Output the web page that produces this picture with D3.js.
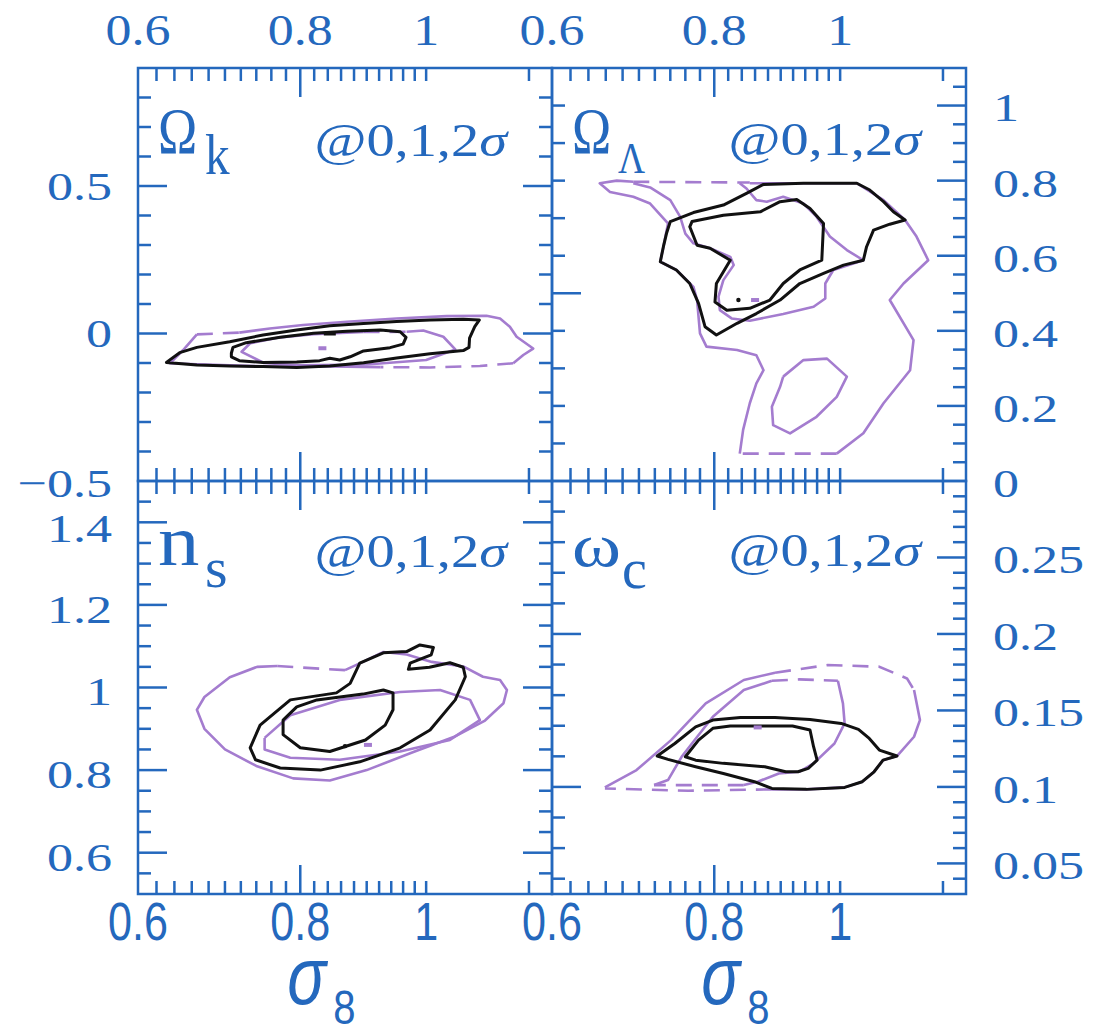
<!DOCTYPE html>
<html><head><meta charset="utf-8">
<script src="https://cdn.jsdelivr.net/npm/d3@7"></script>
<style>body{margin:0;background:#fff}</style>
</head><body><svg id="c" width="1094" height="1036"></svg>
<script>
// ---------- axes data ----------
const sigma8Domain = [0.6, 1.25];
const sigma8MinorTicks = [0.62,0.64,0.66,0.68,0.70,0.72,0.74,0.76,0.78,0.82,0.84,0.86,0.88,0.90,0.92,0.94,0.96,0.98,1.00,1.20];
const sigma8MajorTicks = [0.8];
const sigma8Labels = [0.6, 0.8, 1];

const omegaKDomain = [-0.5, 0.9];
const omegaKMinor = [-0.4,-0.3,-0.2,-0.1,0.1,0.2,0.3,0.4,0.6,0.7,0.8];
const omegaKMajor = [0, 0.5];
const omegaKLabels = [0.5, 0, -0.5];

const omegaLDomain = [0, 1.1];
const omegaLLeftMinor = [0.1,0.2,0.3,0.4,0.6,0.7,0.8,0.9,1.0];
const omegaLLeftMajor = [0.5];
const omegaLRightMinor = [0.05,0.1,0.15,0.25,0.3,0.35,0.45,0.5,0.55,0.65,0.7,0.75,0.85,0.9,0.95,1.05];
const omegaLRightMajor = [0.2,0.4,0.6,0.8,1.0];
const omegaLLabels = [1, 0.8, 0.6, 0.4, 0.2, 0];

const nsDomain = [0.5, 1.5];
const nsMinor = [0.55,0.65,0.7,0.75,0.85,0.9,0.95,1.05,1.1,1.15,1.25,1.3,1.35,1.45];
const nsMajor = [0.6,0.8,1.0,1.2,1.4];
const nsLabels = [1.4, 1.2, 1, 0.8, 0.6];

const wcDomain = [0.03, 0.3];
const wcLeftMinor = [0.04,0.06,0.08,0.12,0.14,0.16,0.18,0.22,0.24,0.26,0.28];
const wcLeftMajor = [0.1, 0.2];
const wcRightMinor = [0.04,0.06,0.07,0.08,0.09,0.11,0.12,0.13,0.14,0.16,0.17,0.18,0.19,0.21,0.22,0.23,0.24,0.26,0.27,0.28,0.29];
const wcRightMajor = [0.05,0.1,0.15,0.2,0.25];
const wcLabels = [0.25, 0.2, 0.15, 0.1, 0.05];

// ---------- contour data [sigma8, parameter] ----------
const omegaKBlackOuter = [[0.631,-0.098],[0.646,-0.065],[0.666,-0.047],[0.706,-0.028],[0.749,-0.005],[0.795,0.012],[0.843,0.026],[0.895,0.034],[0.949,0.041],[1.007,0.046],[1.068,0.048],[1.099,0.046],[1.090,0.023],[1.080,-0.016],[1.079,-0.047],[1.068,-0.058],[1.007,-0.069],[0.949,-0.083],[0.895,-0.099],[0.843,-0.110],[0.795,-0.115],[0.749,-0.112],[0.706,-0.110],[0.666,-0.107]];
const omegaKBlackInner = [[0.708,-0.067],[0.710,-0.047],[0.727,-0.031],[0.772,-0.013],[0.819,0.001],[0.869,0.008],[0.922,0.012],[0.955,0.006],[0.965,-0.013],[0.960,-0.036],[0.938,-0.048],[0.895,-0.059],[0.874,-0.079],[0.858,-0.090],[0.843,-0.084],[0.828,-0.092],[0.795,-0.097],[0.749,-0.098],[0.718,-0.092],[0.708,-0.079]];
const omegaKPurpleSolid = [
  [[0.922,-0.114],[0.843,-0.112],[0.749,-0.111],[0.706,-0.108],[0.666,-0.104],[0.635,-0.101],[0.650,-0.056],[0.666,-0.003]],
  [[0.718,0.003],[0.758,0.017],[0.804,0.029],[0.869,0.040],[0.949,0.051],[1.037,0.059],[1.113,0.060],[1.140,0.051],[1.160,0.023],[1.174,-0.011],[1.209,-0.051],[1.188,-0.073],[1.167,-0.101]],
  [[0.895,0.005],[0.819,-0.002],[0.772,-0.013],[0.732,-0.033],[0.721,-0.062],[0.750,-0.100],[0.800,-0.108],[0.900,-0.105],[1.000,-0.090],[1.053,-0.054],[1.031,-0.011],[0.995,0.010],[0.966,0.006]]
];
const omegaKPurpleDashed = [
  [[0.666,-0.003],[0.718,0.003]],
  [[1.167,-0.101],[1.100,-0.110],[1.007,-0.115],[0.922,-0.114]],
  [[0.895,0.005],[0.966,0.006]]
];
const omegaKBlackCenter = [0.843, 0.0];
const omegaKPurpleCenter = [0.832, -0.050];

const omegaLBlackOuter = [[0.740,0.691],[0.771,0.715],[0.813,0.735],[0.847,0.766],[0.873,0.790],[0.937,0.793],[1.030,0.793],[1.054,0.775],[1.080,0.744],[1.099,0.717],[1.122,0.695],[1.092,0.684],[1.061,0.668],[1.048,0.624],[1.042,0.588],[1.006,0.575],[0.971,0.553],[0.931,0.526],[0.899,0.482],[0.862,0.446],[0.833,0.420],[0.803,0.389],[0.787,0.411],[0.778,0.473],[0.766,0.526],[0.748,0.562],[0.727,0.584],[0.731,0.624],[0.735,0.659]];
const omegaLBlackInner = [[0.769,0.691],[0.813,0.708],[0.868,0.717],[0.899,0.744],[0.926,0.750],[0.948,0.726],[0.971,0.686],[0.968,0.588],[0.931,0.562],[0.904,0.526],[0.883,0.482],[0.852,0.460],[0.818,0.455],[0.801,0.477],[0.803,0.526],[0.823,0.588],[0.794,0.620],[0.776,0.628],[0.766,0.677]];
const omegaLPurpleSolid = [
  [[0.852,0.793],[0.937,0.793],[1.030,0.793],[1.080,0.748],[1.122,0.695],[1.145,0.651],[1.169,0.588],[1.119,0.526],[1.092,0.482],[1.139,0.375],[1.132,0.295],[1.080,0.207],[1.042,0.127],[0.994,0.073]],
  [[0.837,0.073],[0.842,0.136],[0.852,0.207],[0.862,0.260],[0.873,0.295],[0.862,0.335],[0.833,0.349],[0.789,0.358],[0.780,0.393],[0.776,0.482],[0.771,0.517],[0.748,0.562],[0.727,0.584],[0.731,0.624],[0.737,0.686],[0.714,0.739],[0.693,0.757],[0.665,0.770],[0.653,0.793],[0.673,0.800],[0.693,0.797]],
  [[0.693,0.793],[0.714,0.782],[0.740,0.748],[0.753,0.704],[0.760,0.659],[0.771,0.633],[0.794,0.620],[0.823,0.597],[0.828,0.575],[0.813,0.535],[0.806,0.491],[0.808,0.455],[0.825,0.433],[0.852,0.427],[0.904,0.445],[0.954,0.464],[0.974,0.486],[0.974,0.526],[0.988,0.562],[1.042,0.588],[1.012,0.615],[0.982,0.651],[0.959,0.704],[0.937,0.739],[0.904,0.757],[0.878,0.744],[0.862,0.748],[0.847,0.779],[0.837,0.793]],
  [[0.904,0.278],[0.937,0.322],[0.977,0.326],[1.012,0.278],[0.994,0.224],[0.959,0.171],[0.915,0.127],[0.888,0.149],[0.886,0.198],[0.899,0.251],[0.904,0.278]]
];
const omegaLPurpleDashed = [
  [[0.693,0.797],[0.852,0.795]],
  [[0.994,0.073],[0.837,0.073]]
];
const omegaLBlackCenter = [0.835, 0.482];
const omegaLPurpleCenter = [0.860, 0.482];

const nsBlackOuter = [[0.732,0.854],[0.745,0.909],[0.786,0.970],[0.853,0.987],[0.874,1.010],[0.889,1.059],[0.927,1.084],[0.966,1.087],[0.989,1.103],[1.013,1.097],[1.009,1.079],[0.972,1.059],[0.969,1.044],[1.006,1.049],[1.043,1.060],[1.068,1.049],[1.072,1.026],[1.053,0.970],[1.007,0.897],[0.955,0.854],[0.889,0.820],[0.829,0.800],[0.772,0.805],[0.739,0.825]];
const nsBlackInner = [[0.776,0.921],[0.795,0.953],[0.824,0.970],[0.894,0.984],[0.927,0.994],[0.943,0.987],[0.943,0.946],[0.930,0.909],[0.898,0.873],[0.843,0.845],[0.800,0.854],[0.776,0.886]];
const nsPurpleSolid = [
  [[0.866,1.042],[0.894,1.062],[0.927,1.086],[0.966,1.080],[1.010,1.062],[1.068,1.051],[1.106,1.026],[1.140,1.018],[1.154,0.994],[1.147,0.962],[1.110,0.920],[1.050,0.880],[0.980,0.845],[0.900,0.800],[0.843,0.775],[0.790,0.780],[0.740,0.810],[0.700,0.850],[0.675,0.900],[0.666,0.946],[0.675,0.977],[0.706,1.025],[0.741,1.050],[0.768,1.052]],
  [[0.751,0.878],[0.786,0.933],[0.858,0.970],[0.955,0.989],[1.025,0.994],[1.081,0.970],[1.100,0.921],[1.043,0.873],[0.955,0.845],[0.858,0.825],[0.786,0.830],[0.751,0.850],[0.751,0.878]]
];
const nsPurpleDashed = [
  [[0.768,1.052],[0.866,1.042]]
];
const nsBlackCenter = [0.866, 0.858];
const nsPurpleCenter = [0.902, 0.861];

const wcBlackOuter = [[0.723,0.1202],[0.746,0.1284],[0.774,0.1393],[0.798,0.1437],[0.838,0.1454],[0.891,0.1454],[0.948,0.1441],[1.002,0.1415],[1.033,0.1376],[1.053,0.1317],[1.072,0.1241],[1.106,0.1202],[1.079,0.1175],[1.062,0.1099],[1.040,0.1034],[1.008,0.0997],[0.942,0.0984],[0.886,0.0990],[0.859,0.1034],[0.813,0.1088],[0.774,0.1132],[0.737,0.1180]];
const wcBlackInner = [[0.760,0.1197],[0.778,0.1306],[0.798,0.1383],[0.823,0.1398],[0.919,0.1398],[0.948,0.1372],[0.954,0.1263],[0.960,0.1175],[0.945,0.1121],[0.928,0.1099],[0.908,0.1099],[0.875,0.1132],[0.813,0.1154],[0.774,0.1175]];
const wcPurpleSolid = [
  [[0.659,0.0997],[0.697,0.1110],[0.741,0.1306],[0.788,0.1546],[0.843,0.1699],[0.891,0.1747]],
  [[1.140,0.1633],[1.152,0.1437],[1.140,0.1328],[1.106,0.1202],[1.079,0.1175],[1.062,0.1099],[1.040,0.1034],[1.008,0.0997],[0.942,0.0984],[0.886,0.0984]],
  [[0.719,0.1012],[0.737,0.1045],[0.755,0.1197],[0.798,0.1459],[0.843,0.1633],[0.886,0.1694]],
  [[0.996,0.1694],[1.005,0.1546],[1.008,0.1415],[0.990,0.1284],[0.954,0.1154],[0.930,0.1099],[0.897,0.1088],[0.864,0.1034],[0.843,0.1012]]
];
const wcPurpleDashed = [
  [[0.891,0.1747],[0.978,0.1797],[1.072,0.1786],[1.126,0.1709],[1.140,0.1633]],
  [[0.886,0.0984],[0.764,0.0975],[0.659,0.0990]],
  [[0.886,0.1694],[0.930,0.1703],[0.996,0.1694]],
  [[0.843,0.1012],[0.719,0.1012]]
];
const wcBlackCenter = null;
const wcPurpleCenter = [0.864, 0.1389];

// ---------- layout & style ----------
const BLUE = "#2468bd", PURPLE = "#a47ccf", BLACK = "#111";
const SERIF = "'Liberation Serif', 'DejaVu Serif', serif";
const SANS = "'Liberation Sans', Arial, sans-serif";
const X0 = 138, X1 = 552, X2 = 966, Y0 = 68, Y1 = 481, Y2 = 894;
const MINOR = 13, MAJOR = 29;

const svg = d3.select("#c");
svg.append("rect").attr("width",1094).attr("height",1036).attr("fill","#fff");

function stext(sel, x, y, txt, o) {
  const t = sel.append("text")
    .attr("transform", `translate(${x},${y}) scale(${o.sx || 1},${o.sy || 1})`)
    .attr("text-anchor", o.anchor || "start")
    .attr("font-family", o.family || SERIF)
    .attr("font-size", o.size)
    .attr("fill", BLUE);
  if (o.dy) t.attr("dy", o.dy);
  if (o.italic) t.attr("font-style", "italic");
  if (txt !== null) t.text(txt);
  return t;
}

const panels = [
  {x:[X0,X1], y:[Y0,Y1], dom:omegaKDomain, lMin:omegaKMinor, lMaj:omegaKMajor, rMin:omegaKMinor, rMaj:omegaKMajor,
   bo:omegaKBlackOuter, bi:omegaKBlackInner, ps:omegaKPurpleSolid, pd:omegaKPurpleDashed, bc:omegaKBlackCenter, bcDash:true, pc:omegaKPurpleCenter,
   sym:"Ω", sub:"k", symSize:66, symSX:0.8, subSize:58, subSX:0.85, subX:67, base:153, subBase:174, annBase:156},
  {x:[X1,X2], y:[Y0,Y1], dom:omegaLDomain, lMin:omegaLLeftMinor, lMaj:omegaLLeftMajor, rMin:omegaLRightMinor, rMaj:omegaLRightMajor,
   bo:omegaLBlackOuter, bi:omegaLBlackInner, ps:omegaLPurpleSolid, pd:omegaLPurpleDashed, bc:omegaLBlackCenter, pc:omegaLPurpleCenter,
   sym:"Ω", sub:"Λ", symSize:66, symSX:0.8, subSize:44, subSX:0.85, subX:66, base:153, subBase:173, annBase:155},
  {x:[X0,X1], y:[Y1,Y2], dom:nsDomain, lMin:nsMinor, lMaj:nsMajor, rMin:nsMinor, rMaj:nsMajor,
   bo:nsBlackOuter, bi:nsBlackInner, ps:nsPurpleSolid, pd:nsPurpleDashed, bc:nsBlackCenter, pc:nsPurpleCenter,
   sym:"n", sub:"s", symSize:72, symSX:1.15, subSize:58, subSX:1.0, subX:67, base:565, subBase:587, annBase:567},
  {x:[X1,X2], y:[Y1,Y2], dom:wcDomain, lMin:wcLeftMinor, lMaj:wcLeftMajor, rMin:wcRightMinor, rMaj:wcRightMajor,
   bo:wcBlackOuter, bi:wcBlackInner, ps:wcPurpleSolid, pd:wcPurpleDashed, bc:wcBlackCenter, pc:wcPurpleCenter,
   sym:"ω", sub:"c", symSize:62, symSX:1.2, subSize:56, subSX:1.0, subX:70, base:566, subBase:588, annBase:566}
];

panels.forEach((p, i) => {
  const xs = d3.scaleLog().domain(sigma8Domain).range(p.x);
  const ys = d3.scaleLinear().domain(p.dom).range([p.y[1], p.y[0]]);
  const g = svg.append("g");
  const clipId = "clip" + i;
  svg.append("clipPath").attr("id", clipId).append("rect")
    .attr("x", p.x[0]).attr("y", p.y[0]).attr("width", p.x[1]-p.x[0]).attr("height", p.y[1]-p.y[0]);
  const cg = g.append("g").attr("clip-path", `url(#${clipId})`);
  const line = d3.line().x(d => xs(d[0])).y(d => ys(d[1]));
  const lineClosed = d3.line().x(d => xs(d[0])).y(d => ys(d[1])).curve(d3.curveLinearClosed);

  p.ps.forEach(seg => cg.append("path").attr("d", line(seg)).attr("fill","none")
    .attr("stroke", PURPLE).attr("stroke-width", 2.6).attr("stroke-linejoin","round"));
  p.pd.forEach(seg => cg.append("path").attr("d", line(seg)).attr("fill","none")
    .attr("stroke", PURPLE).attr("stroke-width", 2.6).attr("stroke-dasharray","16,10"));
  [p.bo, p.bi].forEach(c => cg.append("path").attr("d", lineClosed(c)).attr("fill","none")
    .attr("stroke", BLACK).attr("stroke-width", 3).attr("stroke-linejoin","round"));
  if (p.pc) cg.append("line").attr("x1", xs(p.pc[0])-4).attr("x2", xs(p.pc[0])+4)
    .attr("y1", ys(p.pc[1])).attr("y2", ys(p.pc[1])).attr("stroke", PURPLE).attr("stroke-width", 4);
  if (p.bc && p.bcDash) cg.append("line").attr("x1", xs(p.bc[0])-6).attr("x2", xs(p.bc[0])+6)
    .attr("y1", ys(p.bc[1])).attr("y2", ys(p.bc[1])).attr("stroke", BLACK).attr("stroke-width", 4);
  else if (p.bc) cg.append("circle").attr("cx", xs(p.bc[0])).attr("cy", ys(p.bc[1])).attr("r", 2.2).attr("fill", BLACK);

  g.append("rect").attr("x", p.x[0]).attr("y", p.y[0]).attr("width", p.x[1]-p.x[0]).attr("height", p.y[1]-p.y[0])
    .attr("fill","none").attr("stroke", BLUE).attr("stroke-width", 2.5);

  const tick = (x1,y1,x2,y2) => g.append("line").attr("x1",x1).attr("y1",y1).attr("x2",x2).attr("y2",y2)
    .attr("stroke", BLUE).attr("stroke-width", 2.5);
  p.lMin.forEach(v => tick(p.x[0], ys(v), p.x[0]+MINOR, ys(v)));
  p.lMaj.forEach(v => tick(p.x[0], ys(v), p.x[0]+MAJOR, ys(v)));
  p.rMin.forEach(v => tick(p.x[1], ys(v), p.x[1]-MINOR, ys(v)));
  p.rMaj.forEach(v => tick(p.x[1], ys(v), p.x[1]-MAJOR, ys(v)));
  sigma8MinorTicks.forEach(v => { tick(xs(v), p.y[0], xs(v), p.y[0]+MINOR); tick(xs(v), p.y[1], xs(v), p.y[1]-MINOR); });
  sigma8MajorTicks.forEach(v => { tick(xs(v), p.y[0], xs(v), p.y[0]+MAJOR); tick(xs(v), p.y[1], xs(v), p.y[1]-MAJOR); });

  stext(g, p.x[0] + 20, p.base, p.sym, {size:p.symSize, sx:p.symSX});
  stext(g, p.x[0] + p.subX, p.subBase, p.sub, {size:p.subSize, sx:p.subSX});
  const ann = stext(g, p.x[1] - 45, p.annBase, null, {size:47, sx:1.2, anchor:"end"});
  ann.append("tspan").text("@0,1,2");
  ann.append("tspan").attr("font-style","italic").text("σ");

  if (i < 2) {
    sigma8Labels.forEach(v => stext(g, xs(v), 45, d3.format("~g")(v), {size:44, sx:1.18, anchor:"middle"}));
  } else {
    sigma8Labels.forEach(v => stext(g, xs(v), 940, d3.format("~g")(v), {size:44, sx:0.98, sy:1.2, anchor:"middle", family:SANS}));
    stext(g, xs(0.8) - 13, 1004, "σ", {size:56, sx:1.15, sy:1.45, family:SANS, italic:true});
    stext(g, xs(0.8) + 33, 1024, "8", {size:40, sx:1.0, sy:1.2, family:SANS});
  }
});

const fmt = v => (v < 0 ? "−" : "") + d3.format("~g")(Math.abs(v));
const yOK = d3.scaleLinear().domain(omegaKDomain).range([Y1, Y0]);
const yOL = d3.scaleLinear().domain(omegaLDomain).range([Y1, Y0]);
const yNS = d3.scaleLinear().domain(nsDomain).range([Y2, Y1]);
const yWC = d3.scaleLinear().domain(wcDomain).range([Y2, Y1]);
const ylab = (x, y, txt, anchor) => stext(svg, x, y, txt, {size:41, sx:1.27, anchor:anchor, dy:"0.34em"});
omegaKLabels.forEach(v => ylab(112, yOK(v) + (v === -0.5 ? 2 : 0), fmt(v), "end"));
nsLabels.forEach(v => ylab(112, yNS(v) + (v === 1.4 ? 6 : 4), fmt(v), "end"));
omegaLLabels.forEach(v => ylab(993, yOL(v) + 2, fmt(v), "start"));
wcLabels.forEach(v => ylab(993, yWC(v) + 2, fmt(v), "start"));
</script></body></html>
